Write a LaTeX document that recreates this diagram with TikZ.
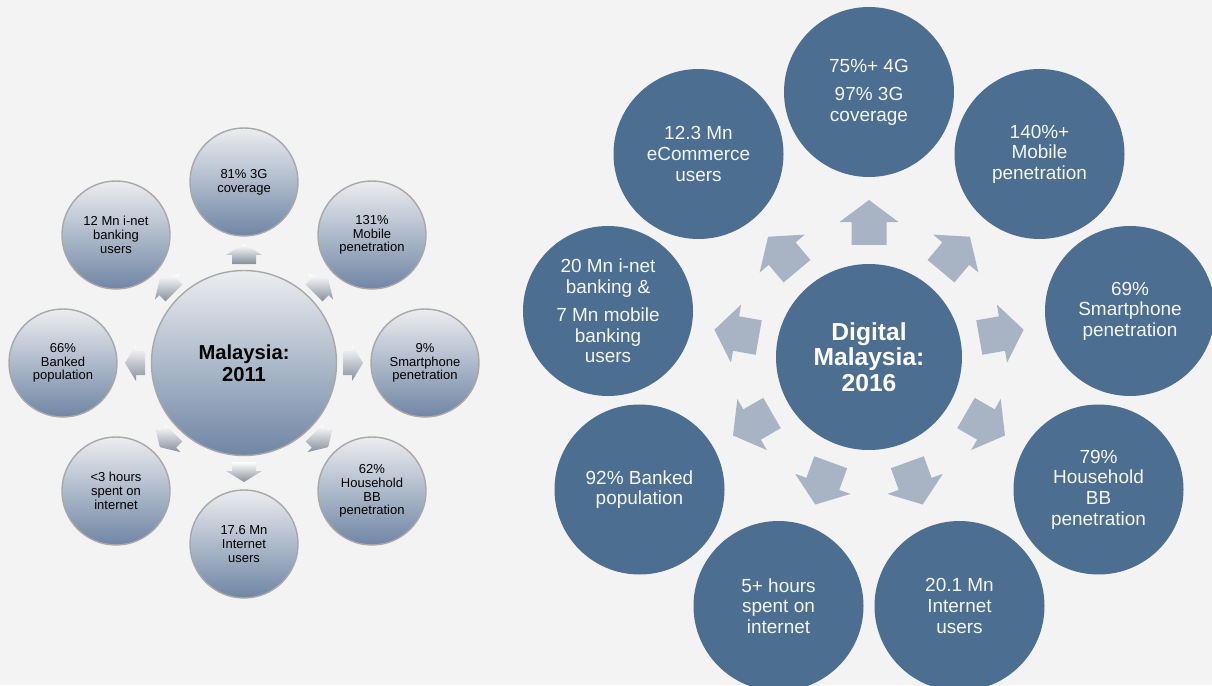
\documentclass[tikz,border=0pt]{standalone}
\usepackage{fontspec}
\setmainfont{Liberation Sans}
\usetikzlibrary{positioning}

\definecolor{paper}{HTML}{F3F3F3}
\definecolor{steel}{HTML}{4B6E91}
\definecolor{arrowgrey}{HTML}{A8B3C3}
\definecolor{silvertop}{HTML}{ECEDF0}
\definecolor{silverbottom}{HTML}{6F86A4}
\definecolor{rimgrey}{HTML}{A8A8A8}

\tikzset{
  flow tail/.store in=\flowtail, flow base/.store in=\flowbase,
  flow tip/.store in=\flowtip, flow shaft/.store in=\flowshaft,
  flow head/.store in=\flowhead,
  % block arrow pointing away from the pic origin at angle #1
  pics/flow/.style={code={
    \path[flow paint] ([shift={(#1-90:\flowshaft)}]#1:\flowtail)
      -- ([shift={(#1-90:\flowshaft)}]#1:\flowbase)
      -- ([shift={(#1-90:\flowhead)}]#1:\flowbase)
      -- (#1:\flowtip)
      -- ([shift={(#1+90:\flowhead)}]#1:\flowbase)
      -- ([shift={(#1+90:\flowshaft)}]#1:\flowbase)
      -- ([shift={(#1+90:\flowshaft)}]#1:\flowtail) -- cycle;
  }},
  oldflow/.style={flow tail=1.98, flow base=2.16, flow tip=2.38,
    flow shaft=.24, flow head=.36,
    flow paint/.style={top color=white, bottom color=arrowgrey!80!black}},
  newflow/.style={flow tail=2.24, flow base=2.70, flow tip=3.14,
    flow shaft=.35, flow head=.59,
    flow paint/.style={fill=arrowgrey}},
  silver/.style={circle, inner sep=0pt, align=center, draw=rimgrey, line width=.8pt,
    top color=silvertop, bottom color=silverbottom, text=black},
  oldhub/.style={silver, minimum size=3.7cm, font=\fontsize{11.5}{12.5}\selectfont\bfseries},
  oldspoke/.style={silver, minimum size=2.16cm, font=\fontsize{7.4}{7.8}\selectfont},
  newhub/.style={circle, inner sep=0pt, align=center, fill=steel, text=white,
    minimum size=3.72cm, font=\fontsize{14}{14.5}\selectfont\bfseries},
  newspoke/.style={circle, inner sep=0pt, align=center, fill=steel, text=white!94!steel,
    minimum size=3.4cm, font=\fontsize{10.8}{11.7}\selectfont}
}

\begin{document}
\begin{tikzpicture}[node distance=3.62cm, on grid]
  \useasboundingbox (0,0) rectangle (24.24,13.70);
  \clip (0,0) rectangle (24.24,13.70);
  \fill[paper] (0,0) rectangle (24.24,13.70);

  % 2011
  \node[oldhub] (m11) at (4.88,6.44) {Malaysia:\\2011};
  \node[oldspoke] (cov11) [above=of m11] {81\% 3G\\coverage};
  \node[oldspoke] (mob11) [above right=2.56cm and 2.56cm of m11] {131\%\\Mobile\\penetration};
  \node[oldspoke] (smart11) [right=of m11] {9\%\\Smartphone\\penetration};
  \node[oldspoke] (bb11) [below right=2.56cm and 2.56cm of m11] {62\%\\Household\\BB\\penetration};
  \node[oldspoke] (net11) [below=of m11] {17.6 Mn\\Internet\\users};
  \node[oldspoke] (hrs11) [below left=2.56cm and 2.56cm of m11] {<3 hours\\spent on\\internet};
  \node[oldspoke] (bank11) [left=of m11] {66\%\\Banked\\population};
  \node[oldspoke] (ibank11) [above left=2.56cm and 2.56cm of m11] {12 Mn i-net\\banking\\users};

  \pic[oldflow] at (m11) {flow=90};
  \pic[oldflow] at (m11) {flow=45};
  \pic[oldflow] at (m11) {flow=0};
  \pic[oldflow] at (m11) {flow=-45};
  \pic[oldflow] at (m11) {flow=-90};
  \pic[oldflow] at (m11) {flow=-135};
  \pic[oldflow] at (m11) {flow=180};
  \pic[oldflow] at (m11) {flow=135};

  % 2016
  \node[newhub] (m16) at (17.38,6.56) {Digital\\Malaysia:\\2016};
  \node[newspoke] (cov16) [above=5.3cm of m16] {75\%+ 4G\\[4.5pt]97\% 3G\\coverage};
  \node[newspoke] (mob16) [above right=4.06cm and 3.41cm of m16] {140\%+\\Mobile\\penetration};
  \node[newspoke] (smart16) [above right=0.92cm and 5.22cm of m16] {69\%\\Smartphone\\penetration};
  \node[newspoke] (bb16) [below right=2.65cm and 4.59cm of m16] {79\%\\Household\\BB\\penetration};
  \node[newspoke] (net16) [below right=4.98cm and 1.81cm of m16] {20.1 Mn\\Internet\\users};
  \node[newspoke] (hrs16) [below left=4.98cm and 1.81cm of m16] {5+ hours\\spent on\\internet};
  \node[newspoke] (bank16) [below left=2.65cm and 4.59cm of m16] {92\% Banked\\population};
  \node[newspoke] (ibank16) [above left=0.92cm and 5.22cm of m16] {20 Mn i-net\\banking \&\\[4.5pt]7 Mn mobile\\banking\\users};
  \node[newspoke] (ecom16) [above left=4.06cm and 3.41cm of m16] {12.3 Mn\\eCommerce\\users};

  \pic[newflow] at (m16) {flow=90};
  \pic[newflow] at (m16) {flow=50};
  \pic[newflow] at (m16) {flow=10};
  \pic[newflow] at (m16) {flow=-30};
  \pic[newflow] at (m16) {flow=-70};
  \pic[newflow] at (m16) {flow=-110};
  \pic[newflow] at (m16) {flow=-150};
  \pic[newflow] at (m16) {flow=170};
  \pic[newflow] at (m16) {flow=130};
\end{tikzpicture}
\end{document}
